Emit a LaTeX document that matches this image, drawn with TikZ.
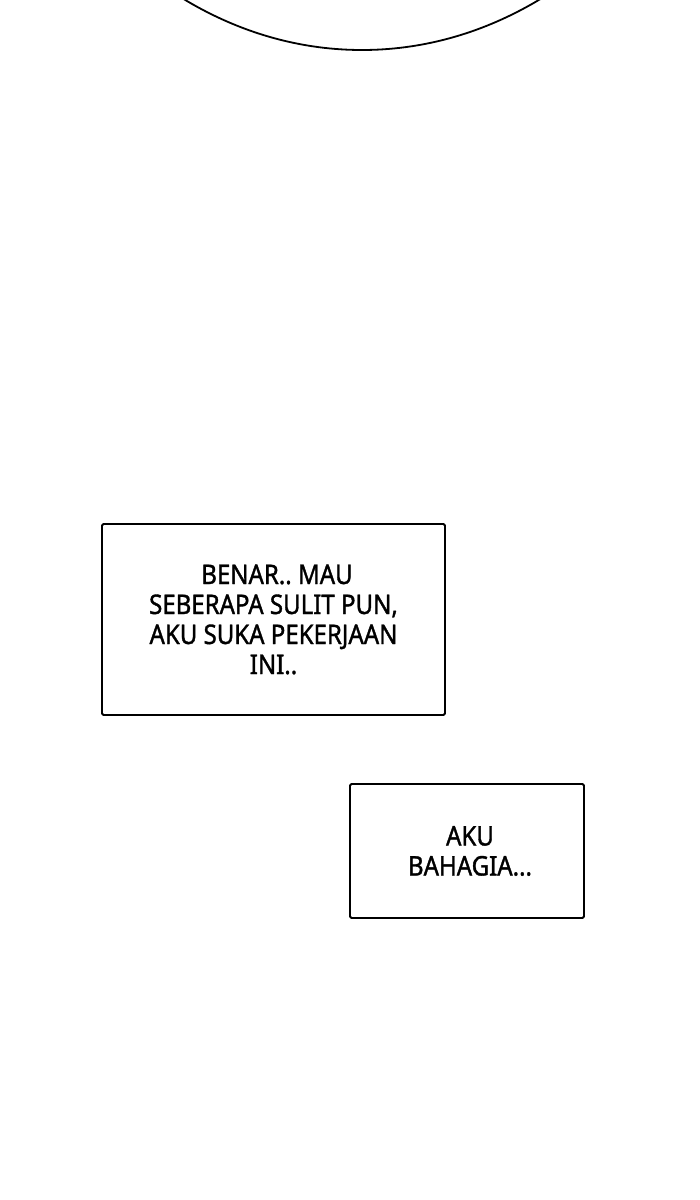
\documentclass[tikz,border=0pt]{standalone}
\usepackage{fontspec}
\setmainfont{Noto Sans}
\newfontfamily\captionfont[FakeStretch=0.89,FakeBold=1.3]{Noto Sans}
\usetikzlibrary{shapes.geometric}

\begin{document}
\frenchspacing
\begin{tikzpicture}[x=1pt,y=-1pt,line width=1.8pt,
  bubble/.style={ellipse,draw,minimum width=840pt,minimum height=1080pt},
  caption box/.style={rectangle,draw,rounded corners=1.5pt,align=center,font=\captionfont\fontsize{27}{30}\selectfont}]

                \useasboundingbox (0,0) rectangle (700,1200);
                \clip (0,0) rectangle (700,1200);

                \node[bubble] (top) at (362,-490) {};

                \node[caption box, minimum width=343pt, minimum height=191pt] (first) at (273.5,619.5)
                  {\hspace*{7pt}BENAR.. MAU\\ SEBERAPA SULIT PUN,\\ AKU SUKA PEKERJAAN\\ INI..};
                \node[caption box, minimum width=234pt, minimum height=134pt] (second) at (467,851)
                  {\hspace*{6pt}AKU\\ \hspace*{6pt}BAHAGIA...};

            \end{tikzpicture}
\end{document}
